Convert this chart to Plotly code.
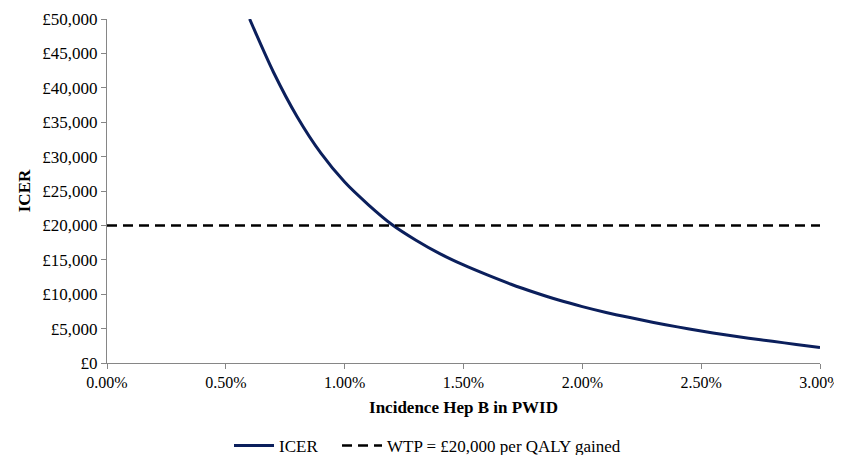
import plotly.graph_objects as go

# Incidence of Hep B in PWID (fraction) and ICER (£)
incidence = [0.006, 0.007, 0.008, 0.009, 0.010, 0.011, 0.012, 0.013, 0.014, 0.015,
             0.016, 0.017, 0.018, 0.019, 0.020, 0.021, 0.022, 0.023, 0.024, 0.025,
             0.026, 0.027, 0.028, 0.029, 0.030]
icer = [50000, 42300, 35800, 30500, 26300, 23000, 20100, 17850, 15900, 14250,
        12800, 11450, 10250, 9150, 8200, 7350, 6600, 5900, 5250, 4650,
        4100, 3600, 3150, 2700, 2250]

wtp_x = [0.0, 0.03]
wtp_y = [20000, 20000]

x_ticks = [0.0, 0.005, 0.010, 0.015, 0.020, 0.025, 0.030]
x_labels = ["0.00%", "0.50%", "1.00%", "1.50%", "2.00%", "2.50%", "3.00%"]
y_ticks = [0, 5000, 10000, 15000, 20000, 25000, 30000, 35000, 40000, 45000, 50000]
y_labels = ["£0", "£5,000", "£10,000", "£15,000", "£20,000", "£25,000",
            "£30,000", "£35,000", "£40,000", "£45,000", "£50,000"]

font_family = "'Liberation Serif', 'Times New Roman', Tinos, serif"

fig = go.Figure()
fig.add_trace(go.Scatter(
    x=incidence, y=icer, mode="lines", name="ICER", legend="legend",
    line=dict(color="#0b1f5c", width=3, shape="spline", smoothing=0.8),
))
fig.add_trace(go.Scatter(
    x=wtp_x, y=wtp_y, mode="lines", name="WTP = £20,000 per QALY gained",
    legend="legend2",
    line=dict(color="black", width=2.5, dash="10px,6px"),
))

legend_common = dict(orientation="h", xref="container", yref="container",
                     xanchor="left", y=0.02, yanchor="middle",
                     font=dict(family=font_family, size=17, color="black"),
                     itemwidth=40, bgcolor="rgba(0,0,0,0)")

# the page body adds an 8px offset, so the figure is 8px smaller on each side
fig.update_layout(
    template="none",
    width=834, height=447,
    margin=dict(l=99, r=22, t=11, b=92, autoexpand=False),
    paper_bgcolor="white", plot_bgcolor="white",
    font=dict(family=font_family, size=17, color="black"),
    showlegend=True,
    legend=dict(x=0.265, **legend_common),
    legend2=dict(x=0.3945, **legend_common),
    xaxis=dict(
        range=[0, 0.03], tickvals=x_ticks, ticktext=x_labels, automargin=False,
        showline=True, linecolor="#868686", linewidth=1,
        ticks="outside", ticklen=5, tickcolor="#868686",
        showgrid=False, zeroline=False,
        tickfont=dict(family=font_family, size=16),
        title=dict(text="<b>Incidence Hep B in PWID</b>", standoff=10,
                   font=dict(family=font_family, size=17)),
    ),
    yaxis=dict(
        range=[0, 50000], tickvals=y_ticks, ticktext=y_labels, automargin=False,
        showline=True, linecolor="#868686", linewidth=1,
        ticks="outside", ticklen=5, tickcolor="#868686",
        showgrid=False, zeroline=False,
        tickfont=dict(family=font_family, size=17),
        title=dict(text="<b>ICER</b>", standoff=7,
                   font=dict(family=font_family, size=17)),
    ),
)

fig.write_html("out.html")
